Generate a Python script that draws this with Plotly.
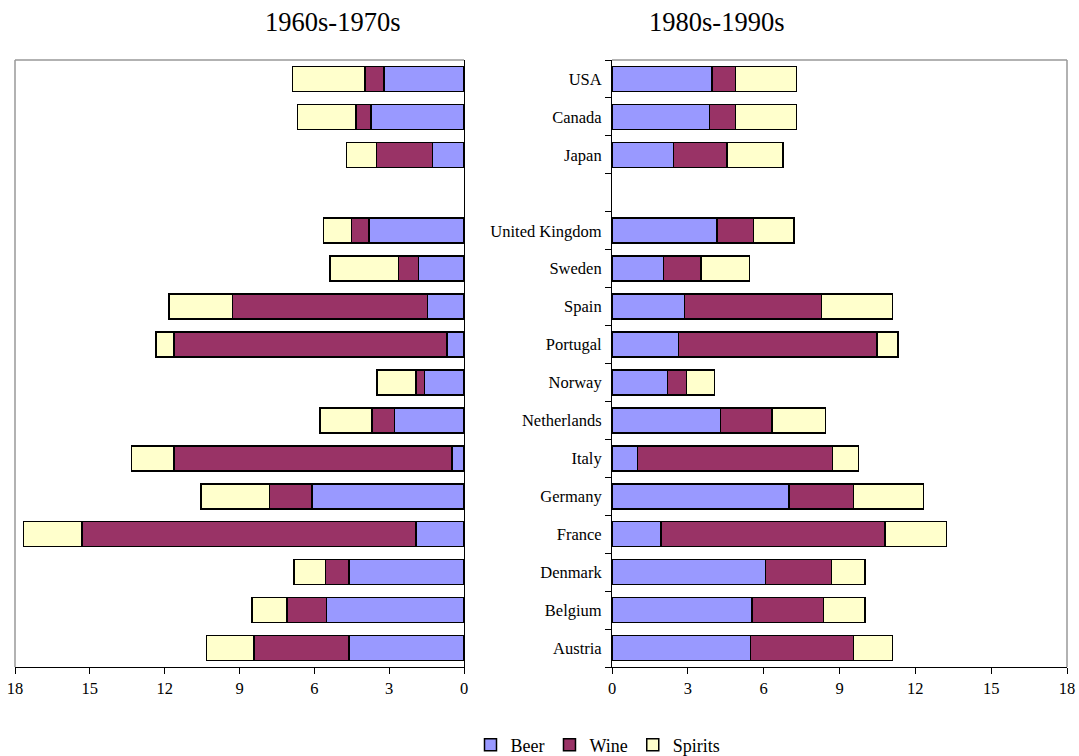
import plotly.graph_objects as go

countries = ["Austria", "Belgium", "Denmark", "France", "Germany", "Italy",
             "Netherlands", "Norway", "Portugal", "Spain", "Sweden",
             "United Kingdom", " ", "Japan", "Canada", "USA"]

# 1960s-1970s (None = blank separator row)
beer_60 = [4.61, 5.51, 4.61, 1.92, 6.09, 0.48, 2.78, 1.58, 0.68, 1.47, 1.83, 3.81, None, 1.27, 3.72, 3.21]
wine_60 = [3.80, 1.59, 0.95, 13.40, 1.71, 11.15, 0.90, 0.34, 10.95, 7.82, 0.79, 0.71, None, 2.23, 0.60, 0.75]
spirits_60 = [1.92, 1.40, 1.26, 2.33, 2.74, 1.69, 2.09, 1.57, 0.71, 2.54, 2.75, 1.11, None, 1.22, 2.35, 2.91]

# 1980s-1990s
beer_80 = [5.47, 5.54, 6.08, 1.94, 7.00, 1.01, 4.30, 2.20, 2.64, 2.87, 2.04, 4.15, None, 2.44, 3.86, 3.96]
wine_80 = [4.09, 2.83, 2.61, 8.85, 2.56, 7.72, 2.03, 0.74, 7.84, 5.41, 1.48, 1.44, None, 2.11, 1.03, 0.93]
spirits_80 = [1.53, 1.64, 1.32, 2.45, 2.76, 1.03, 2.11, 1.12, 0.83, 2.81, 1.91, 1.61, None, 2.21, 2.41, 2.41]

x_ticks = [0, 3, 6, 9, 12, 15, 18]
series_names = ["Beer", "Wine", "Spirits"]
colors = ["#9999FF", "#993366", "#FFFFCC"]

FONT = "Liberation Serif, Times New Roman, serif"

fig = go.Figure()
left = [beer_60, wine_60, spirits_60]
right = [beer_80, wine_80, spirits_80]
for name, col, vals in zip(series_names, colors, left):
    fig.add_trace(go.Bar(x=vals, y=countries, orientation="h", name=name,
                         marker=dict(color=col, line=dict(color="#000000", width=1.5)),
                         xaxis="x", yaxis="y", legendgroup=name, showlegend=True,
                         hoverinfo="x+y"))
for name, col, vals in zip(series_names, colors, right):
    fig.add_trace(go.Bar(x=vals, y=countries, orientation="h", name=name,
                         marker=dict(color=col, line=dict(color="#000000", width=1.5)),
                         xaxis="x2", yaxis="y2", legendgroup=name, showlegend=False,
                         hoverinfo="x+y"))

W, H = 1079, 756
ydom = [1 - 667 / H, 1 - 60 / H]
axis_common = dict(showgrid=False, zeroline=False, ticks="outside", ticklen=6,
                   tickcolor="#000000", linecolor="#000000", linewidth=1, showline=True,
                   tickfont=dict(family=FONT, size=16.5, color="#000000"))

fig.update_layout(
    width=W, height=H,
    margin=dict(l=0, r=0, t=0, b=0, autoexpand=False),
    paper_bgcolor="white", plot_bgcolor="white",
    barmode="stack", bargap=0.34,
    font=dict(family=FONT, color="#000000"),
    xaxis=dict(domain=[15 / W, 464 / W], range=[18, 0], tickvals=x_ticks,
               anchor="y", **axis_common),
    yaxis=dict(domain=ydom, type="category", categoryorder="array",
               categoryarray=countries, range=[-0.5, len(countries) - 0.5],
               side="right", showticklabels=False, ticks="", showgrid=False,
               zeroline=False, showline=True, linecolor="#000000", linewidth=1,
               anchor="x"),
    xaxis2=dict(domain=[612 / W, 1067 / W], range=[0, 18], tickvals=x_ticks,
                anchor="y2", **axis_common),
    yaxis2=dict(domain=ydom, type="category", categoryorder="array",
                categoryarray=countries, range=[-0.5, len(countries) - 0.5],
                anchor="x2", tickson="boundaries", ticks="outside", ticklen=6,
                tickcolor="#000000", showline=True, linecolor="#000000", linewidth=1,
                showgrid=False, zeroline=False, ticklabelstandoff=6,
                tickfont=dict(family=FONT, size=16.5, color="#000000")),
    legend=dict(orientation="h", x=598 / W, xanchor="center", y=1 - 745 / H,
                yanchor="middle", font=dict(family=FONT, size=18, color="#000000"),
                traceorder="normal", itemwidth=30, tracegroupgap=0),
    annotations=[
        dict(text="1960s-1970s", x=332 / W, y=1 - 22 / H, xref="paper", yref="paper",
             showarrow=False, xanchor="center", yanchor="middle",
             font=dict(family=FONT, size=26.5, color="#000000")),
        dict(text="1980s-1990s", x=716 / W, y=1 - 22 / H, xref="paper", yref="paper",
             showarrow=False, xanchor="center", yanchor="middle",
             font=dict(family=FONT, size=26.5, color="#000000")),
    ],
    shapes=[
        dict(type="line", xref="x domain", yref="y domain", x0=0, x1=0, y0=0, y1=1,
             line=dict(color="#999999", width=1.5)),
        dict(type="line", xref="x domain", yref="y domain", x0=0, x1=1, y0=1, y1=1,
             line=dict(color="#999999", width=1.5)),
        dict(type="line", xref="x2 domain", yref="y2 domain", x0=1, x1=1, y0=0, y1=1,
             line=dict(color="#999999", width=1.5)),
        dict(type="line", xref="x2 domain", yref="y2 domain", x0=0, x1=1, y0=1, y1=1,
             line=dict(color="#999999", width=1.5)),
    ],
)

fig.write_html("out.html")
